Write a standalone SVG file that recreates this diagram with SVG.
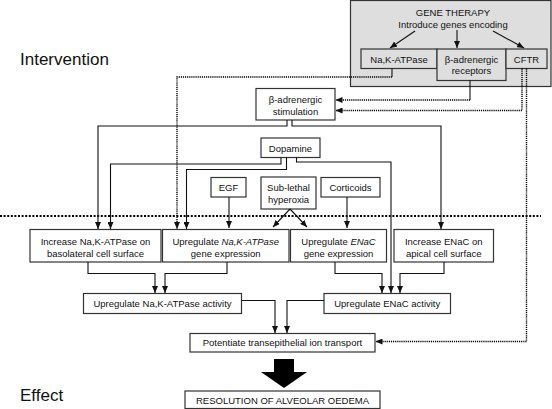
<svg xmlns="http://www.w3.org/2000/svg" width="552" height="409" viewBox="0 0 552 409">
<defs>
<marker id="ah" viewBox="0 0 7 6" refX="7" refY="3" markerWidth="7" markerHeight="6" markerUnits="userSpaceOnUse" orient="auto">
<path d="M0,0 L7,3 L0,6 z" fill="#111"/>
</marker>
</defs>
<style>
text{font-family:"Liberation Sans",Arial,sans-serif;font-size:9.5px;fill:#111;text-anchor:middle}
.box{fill:#fff;stroke:#333;stroke-width:1.2}
.gbox{fill:#dedede;stroke:#333;stroke-width:1.2}
.ln{fill:none;stroke:#111;stroke-width:1.1}
.dot{fill:none;stroke:#000;stroke-width:1.4;stroke-dasharray:1.2,0.9}
.arr{marker-end:url(#ah)}
.big{font-size:17px;text-anchor:start}
</style>
<rect width="552" height="409" fill="#fff"/>
<text class="big" x="20" y="65">Intervention</text>
<text class="big" x="20" y="401">Effect</text>
<line x1="0" y1="216" x2="541" y2="216" stroke="#000" stroke-width="2.2" stroke-dasharray="2,1.6"/>
<g id="gene-therapy">
<rect class="gbox" x="350.5" y="0.5" width="200.5" height="86"/>
<text x="453" y="15.5">GENE THERAPY</text>
<text x="453" y="28">Introduce genes encoding</text>
</g>
<g id="nak-gene">
<rect class="gbox" x="361" y="49" width="76" height="19.5"/>
<text x="399" y="62.5">Na,K-ATPase</text>
</g>
<g id="beta-receptors">
<rect class="gbox" x="437" y="49" width="69" height="31.5"/>
<text x="471.5" y="62.5">β-adrenergic</text>
<text x="471.5" y="74">receptors</text>
</g>
<g id="cftr">
<rect class="gbox" x="506" y="49" width="41" height="19.5"/>
<text x="526.5" y="62.5">CFTR</text>
</g>
<g id="beta-stim">
<rect class="box" x="256" y="88.5" width="79" height="31.5"/>
<text x="295.5" y="102.5">β-adrenergic</text>
<text x="295.5" y="114.5">stimulation</text>
</g>
<g id="dopamine">
<rect class="box" x="261" y="138" width="59" height="19.5"/>
<text x="290.5" y="151.5">Dopamine</text>
</g>
<g id="egf">
<rect class="box" x="211" y="177.5" width="35" height="19.5"/>
<text x="228.5" y="190.5">EGF</text>
</g>
<g id="hyperoxia">
<rect class="box" x="261" y="177" width="55" height="32"/>
<text x="288.5" y="191">Sub-lethal</text>
<text x="288.5" y="203">hyperoxia</text>
</g>
<g id="corticoids">
<rect class="box" x="321" y="177.5" width="59" height="19.5"/>
<text x="350.5" y="190.5">Corticoids</text>
</g>
<g id="increase-nak">
<rect class="box" x="30" y="229.5" width="131" height="32.5"/>
<text x="95.5" y="245">Increase Na,K-ATPase on</text>
<text x="95.5" y="256.5">basolateral cell surface</text>
</g>
<g id="upregulate-nak-gene">
<rect class="box" x="162.5" y="229.5" width="126.5" height="32.5"/>
<text x="225.7" y="245">Upregulate <tspan font-style="italic">Na,K-ATPase</tspan></text>
<text x="225.7" y="256.5">gene expression</text>
</g>
<g id="upregulate-enac-gene">
<rect class="box" x="290.5" y="229.5" width="96" height="32.5"/>
<text x="338.5" y="245">Upregulate <tspan font-style="italic">ENaC</tspan></text>
<text x="338.5" y="256.5">gene expression</text>
</g>
<g id="increase-enac">
<rect class="box" x="394" y="229.5" width="99.5" height="32.5"/>
<text x="443.7" y="245">Increase ENaC on</text>
<text x="443.7" y="256.5">apical cell surface</text>
</g>
<g id="nak-activity">
<rect class="box" x="83.5" y="293.5" width="158" height="20"/>
<text x="162.5" y="306.8">Upregulate Na,K-ATPase activity</text>
</g>
<g id="enac-activity">
<rect class="box" x="324" y="293.5" width="126.5" height="20"/>
<text x="387.2" y="306.8">Upregulate ENaC activity</text>
</g>
<g id="potentiate">
<rect class="box" x="190" y="333.5" width="185" height="18.5"/>
<text x="282.5" y="346">Potentiate transepithelial ion transport</text>
</g>
<g id="resolution">
<rect class="box" x="185" y="391" width="195" height="17.5"/>
<text x="282.5" y="403.5">RESOLUTION OF ALVEOLAR OEDEMA</text>
</g>
<g id="connectors">
<path class="ln arr" d="M415,31 L390,48"/>
<path class="ln arr" d="M457,30 V48"/>
<path class="ln arr" d="M493,31 L524,48"/>
<path class="ln" d="M392,68.5 V77"/>
<path class="dot arr" d="M392,77 H177 V229"/>
<path class="ln" d="M470,80.5 V100"/>
<path class="dot arr" d="M470,100 H335.5"/>
<path class="dot arr" d="M522,68.5 V110.5 H335.5"/>
<path class="dot arr" d="M526.5,68.5 V341.5 H375.5"/>
<path class="ln arr" d="M287,120 V126 H98 V229"/>
<path class="ln arr" d="M292,120 V126 H441 V229"/>
<path class="ln arr" d="M281,157.5 V164 H110.5 V229"/>
<path class="ln arr" d="M286.5,157.5 V169.5 H186.5 V229"/>
<path class="ln arr" d="M296.5,157.5 V162 H391 V293"/>
<path class="ln arr" d="M229,197 V228"/>
<path class="ln arr" d="M290,209 L273,227"/>
<path class="ln arr" d="M290,209 L307,227"/>
<path class="ln arr" d="M347,197 V228"/>
<path class="ln arr" d="M88,262 V273.5 H155 V293"/>
<path class="ln arr" d="M227,262 V273.5 H165 V293"/>
<path class="ln arr" d="M335,262 V273.5 H382 V293"/>
<path class="ln arr" d="M444,262 V273.5 H400 V293"/>
<path class="ln arr" d="M241.5,300.5 H275 V333"/>
<path class="ln arr" d="M324,300.5 H287 V333"/>
<polygon points="274,359 294,359 294,372 307,372 284,388 261,372 274,372" fill="#000"/>
</g>
</svg>
